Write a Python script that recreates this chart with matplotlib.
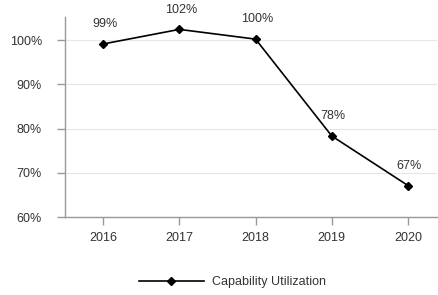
import matplotlib.pyplot as plt
from matplotlib.ticker import FuncFormatter

plt.rcParams['font.family'] = ['Liberation Sans', 'DejaVu Sans']

years = ["2016", "2017", "2018", "2019", "2020"]
utilization = [99.1, 102.4, 100.2, 78.3, 67.1]
labels = ["99%", "102%", "100%", "78%", "67%"]
yticks = [60, 70, 80, 90, 100]


def main():
    fig = plt.figure(figsize=(4.38, 2.95), dpi=100)
    ax = fig.add_axes([65 / 438, 1 - 217 / 295, 372 / 438, 200 / 295])

    x = list(range(len(years)))
    ax.plot(x, utilization, color="black", lw=1.2, marker="D", ms=4.2,
            label="Capability Utilization", zorder=3)
    for xi, v, t in zip(x, utilization, labels):
        ax.annotate(t, (xi, v), xytext=(1, 10), textcoords="offset points",
                    ha="center", va="bottom", fontsize=9, color="#333333")

    ax.set_xlim(-0.5, 4.38)
    ax.set_ylim(60, 105.2)
    ax.set_xticks(x)
    ax.set_xticklabels(years)
    ax.set_yticks(yticks)
    ax.yaxis.set_major_formatter(FuncFormatter(lambda v, p: f"{v:.0f}%"))
    ax.grid(axis="y", color="#e6e6e6", lw=0.8)
    ax.set_axisbelow(True)

    for s in ["top", "right"]:
        ax.spines[s].set_visible(False)
    for s in ["left", "bottom"]:
        ax.spines[s].set_color("#999999")
        ax.spines[s].set_linewidth(1.0)
    ax.tick_params(axis="both", colors="#999999", labelcolor="#333333",
                   labelsize=9, length=6, width=1.0)
    ax.tick_params(axis="x", pad=5)
    ax.tick_params(axis="y", pad=10.5)

    fig.legend(loc="center", bbox_to_anchor=(232.5 / 438, 1 - 282 / 295), frameon=False,
               fontsize=9, handlelength=5.2, handletextpad=0.7, labelcolor="#333333")

    fig.savefig("out.png", dpi=100)


if __name__ == "__main__":
    main()
